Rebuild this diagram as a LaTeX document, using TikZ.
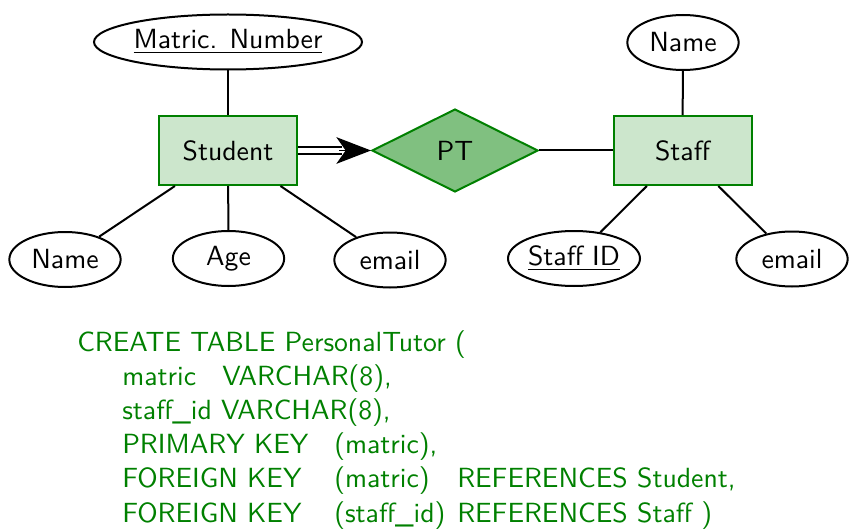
\documentclass[tikz,border=0pt]{standalone}
\usepackage{graphicx}
\usetikzlibrary{shapes.geometric,arrows.meta}
\definecolor{dgreen}{RGB}{0,128,0}
\definecolor{boxfill}{RGB}{204,230,204}
\definecolor{relfill}{RGB}{128,192,128}
\newcommand\bigtxt[1]{\scalebox{2.08}{#1}}
\begin{document}
\begin{tikzpicture}[x=0.75pt,y=-0.75pt,
  font=\sffamily\fontsize{10}{12.33}\selectfont,
  entity/.style={draw=dgreen,fill=boxfill,line width=1.5pt,minimum width=103.5pt,minimum height=51.75pt,inner sep=0pt},
  attr/.style={draw=black,ellipse,line width=1.5pt,minimum width=83.5pt,minimum height=41.25pt,inner sep=0pt},
  rel/.style={draw=dgreen,fill=relfill,diamond,line width=1.5pt,minimum width=124.5pt,minimum height=62.25pt,inner sep=0pt},
  link/.style={line width=1.5pt}]
\useasboundingbox (0,0) rectangle (856,531);
% entities and relationship
\node[entity] (student) at (228,150.5) {\bigtxt{Student}};
\node[entity] (staff) at (682.5,150.5) {\bigtxt{Staff}};
\node[rel] (pt) at (455,150.5) {\bigtxt{PT}};
% attributes of Student
\node[attr,minimum width=201pt] (matric) at (228,42) {\bigtxt{\underline{Matric. Number}}};
\node[attr] (sname) at (65,259.5) {\bigtxt{Name}};
\node[attr] (age) at (228.5,258.5) {\bigtxt{Age}};
\node[attr] (semail) at (390,260) {\bigtxt{email}};
% attributes of Staff
\node[attr] (fname) at (683,42.5) {\bigtxt{Name}};
\node[attr,minimum width=99pt] (staffid) at (574,258.5) {\bigtxt{\underline{Staff ID}}};
\node[attr] (femail) at (792,259) {\bigtxt{email}};
% connectors
\draw[link] (matric) -- (student);
\draw[link] (student) -- (sname);
\draw[link] (student) -- (age);
\draw[link] (student) -- (semail);
\draw[link] (fname) -- (staff);
\draw[link] (staff) -- (staffid);
\draw[link] (staff) -- (femail);
\draw[link] (pt) -- (staff);
\coordinate (tipback) at ([xshift=-22pt]pt.west);
\draw[line width=1.6pt,double distance=3.6pt] (student.east) -- (tipback);
\draw[line width=1pt,-{Stealth[length=26pt,width=20pt,inset=7pt]}] ([xshift=-2pt]tipback) -- (pt.west);
% SQL text
\node[anchor=north west,inner sep=0pt,text=dgreen] (sql) at (77,327) {\bigtxt{%
\begin{tabular}{@{}l@{}}
CREATE TABLE PersonalTutor (\\
\hspace*{16.23pt}\makebox[36.06pt][l]{matric}VARCHAR(8),\\
\hspace*{16.23pt}staff\_id VARCHAR(8),\\
\hspace*{16.23pt}\makebox[76.44pt][l]{PRIMARY KEY}(matric),\\
\hspace*{16.23pt}\makebox[76.44pt][l]{FOREIGN KEY}\makebox[44.35pt][l]{(matric)}REFERENCES Student,\\
\hspace*{16.23pt}\makebox[76.44pt][l]{FOREIGN KEY}\makebox[44.35pt][l]{(staff\_id)}REFERENCES Staff )
\end{tabular}}};
\end{tikzpicture}
\end{document}
